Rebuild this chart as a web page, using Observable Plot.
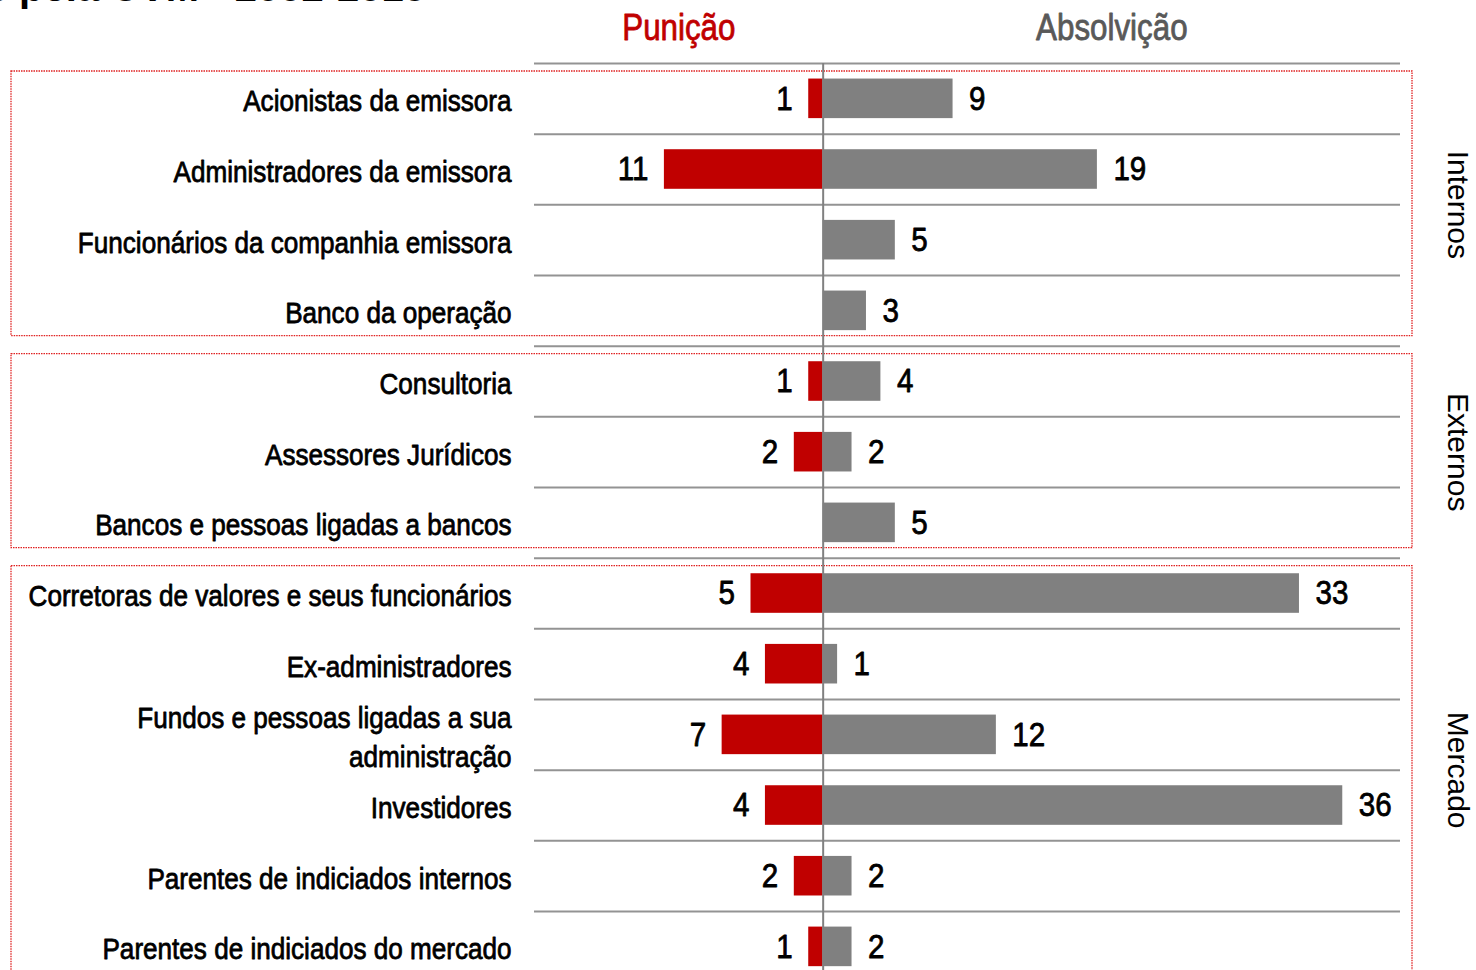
<!DOCTYPE html>
<html>
<head>
<meta charset="utf-8">
<script src="https://cdn.jsdelivr.net/npm/d3@7"></script>
<script src="https://cdn.jsdelivr.net/npm/@observablehq/plot@0.6"></script>
<style>
  html, body { margin: 0; padding: 0; background: #fff; overflow: hidden; }
  #wrap { position: relative; width: 1476px; height: 970px; }
  #title { position: absolute; right: 1050px; top: -33px; white-space: nowrap;
           font: bold 40px "Liberation Sans", Arial, sans-serif; line-height: 1; color: #000; z-index: 2; }
  #chart { position: absolute; left: 0; top: 0; }
</style>
</head>
<body>
<div id="wrap">
  <div id="chart"></div>
  <div id="title">Processos julgados pela CVM - 2002-2015</div>
</div>
<script>
// ---- data ----
const categories = [
  "Acionistas da emissora",
  "Administradores da emissora",
  "Funcionários da companhia emissora",
  "Banco da operação",
  "Consultoria",
  "Assessores Jurídicos",
  "Bancos e pessoas ligadas a bancos",
  "Corretoras de valores e seus funcionários",
  "Ex-administradores",
  "Fundos e pessoas ligadas a sua\nadministração",
  "Investidores",
  "Parentes de indiciados internos",
  "Parentes de indiciados do mercado"
];
const punicao    = [1, 11, 0, 0, 1, 2, 0, 5, 4, 7, 4, 2, 1];
const absolvicao = [9, 19, 5, 3, 4, 2, 5, 33, 1, 12, 36, 2, 2];
const groupNames = ["Internos", "Externos", "Mercado"];
const groupStart = [0, 4, 7];
const groupEnd   = [4, 7, 13];
const headers    = ["Punição", "Absolvição"];

// ---- derived tables ----
const rows = categories.map((c, i) => ({cat: c, i, p: punicao[i], a: absolvicao[i]}));
const groups = groupNames.map((g, k) => ({g, y1: groupStart[k], y2: groupEnd[k], yc: (groupStart[k] + groupEnd[k]) / 2}));
const xDomain = [-20, 40];
const headerRows = [
  {t: headers[0], x: (xDomain[0] + 0) / 2, color: "#c00000"},
  {t: headers[1], x: (0 + xDomain[1]) / 2, color: "#595959"}
];

// condensed look: Liberation Sans squeezed horizontally
const NARROW = '"Liberation Sans", Arial, sans-serif';
const GROUPF = 'Arial, "Liberation Sans", sans-serif';
const SX = 0.87;
const ROW = 70.67;

const chart = Plot.plot({
  width: 1476,
  height: 970,
  marginLeft: 11,
  marginRight: 64,
  marginTop: 63,
  marginBottom: 0,
  style: {background: "white", overflow: "visible"},
  x: {domain: xDomain, range: [534, 1400], axis: null},
  y: {domain: [0, categories.length], range: [63, 63 + categories.length * ROW], axis: null},
  marks: [
    // group boxes
    Plot.rect(groups, {y1: "y1", y2: "y2", insetTop: 8, insetBottom: 10,
      fill: "none", stroke: "#e02020", strokeWidth: 1.3, strokeDasharray: "1.5,1"}),
    // separators
    Plot.ruleY(d3.range(categories.length + 1), {x1: xDomain[0], x2: xDomain[1], stroke: "#939393", strokeWidth: 2}),
    // bars
    Plot.rect(rows.filter(d => d.p > 0), {x1: 0, x2: d => -d.p, y1: d => d.i + 0.22, y2: d => d.i + 0.78, fill: "#c00000"}),
    Plot.rect(rows, {x1: 0, x2: "a", y1: d => d.i + 0.22, y2: d => d.i + 0.78, fill: "#808080"}),
    // zero axis
    Plot.ruleX([0], {y1: 0, y2: categories.length, stroke: "#808080", strokeWidth: 2}),
    // value labels
    Plot.text(rows.filter(d => d.p > 0), {x: d => -d.p, y: d => d.i + 0.5, text: d => String(d.p),
      textAnchor: "end", dx: -16, fontSize: 34, fontFamily: NARROW, fill: "#000", stroke: "#000", strokeWidth: 0.8}),
    Plot.text(rows, {x: "a", y: d => d.i + 0.5, text: d => String(d.a),
      textAnchor: "start", dx: 16, fontSize: 34, fontFamily: NARROW, fill: "#000", stroke: "#000", strokeWidth: 0.8}),
    // category labels
    Plot.text(rows, {x: xDomain[0], y: d => d.i + 0.5, text: "cat", textAnchor: "end", dx: -23,
      lineAnchor: "middle", lineHeight: 1.3, fontSize: 30, fontFamily: NARROW, fill: "#000", stroke: "#000", strokeWidth: 0.8}),
    // headers
    Plot.text(headerRows, {x: "x", y: -0.5, text: "t", fill: "color", stroke: "color", strokeWidth: 0.8,
      fontSize: 36, fontFamily: NARROW}),
    // group labels
    Plot.text(groups, {y: "yc", frameAnchor: "right", textAnchor: "middle", dx: 45, text: "g", rotate: 90,
      fontSize: 30, fontFamily: GROUPF, fill: "#000"})
  ]
});

// squeeze the narrow-font texts horizontally around their anchor
chart.querySelectorAll("text").forEach(t => {
  const holder = t.closest("[font-family]");
  if (!holder || holder.getAttribute("font-family") !== NARROW) return;
  const tr = t.getAttribute("transform") || "";
  t.setAttribute("transform", tr + ` scale(${SX},1)`);
});

document.getElementById("chart").appendChild(chart);
</script>
</body>
</html>
